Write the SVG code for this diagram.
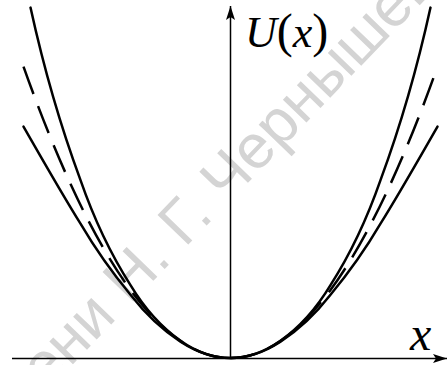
<svg xmlns="http://www.w3.org/2000/svg" width="448" height="365" viewBox="0 0 448 365">
<style>
.wm{font-family:"Liberation Sans",Arial,sans-serif;font-size:62px;fill:#d4d4d4}
.curve{fill:none;stroke:#000;stroke-width:2.5;stroke-linecap:round;stroke-linejoin:round}
.dash{stroke-dasharray:29 13;stroke-linecap:butt}
.axis{fill:none;stroke:#000;stroke-width:1.5}
.lbl{font-family:"Liberation Serif","Times New Roman",serif;font-style:italic;fill:#000}
</style>
<defs>
<marker id="arr" markerUnits="userSpaceOnUse" markerWidth="15" markerHeight="11" refX="14" refY="5.5" orient="auto" viewBox="0 0 15 11">
<path d="M0,1 L14,5.5 L0,10 L3,5.5 Z" fill="#000"/>
</marker>
</defs>
<text class="wm" transform="translate(46,392) rotate(-46)">ени Н. Г. Чернышев</text>
<g id="connectors">
<line id="x-axis" class="axis" x1="12" y1="358.5" x2="447" y2="358.5" marker-end="url(#arr)"/>
<line id="y-axis" class="axis" x1="230.5" y1="358.5" x2="230.5" y2="6" marker-end="url(#arr)"/>
</g>
<g id="curve-outer">
<path class="curve" d="M30.5,7.6 C46.17,79.07 63.83,135.16 80.5,180.19 C96.17,225.22 113.83,259.17 130.5,285.1 C146.17,311.03 163.83,328.95 180.5,340.69 C197.17,352.44 213.83,358 230.5,358 C247.17,358 263.83,352.44 280.5,340.69 C297.17,328.95 314.83,311.03 330.5,285.1 C347.17,259.17 364.83,225.22 380.5,180.19 C397.17,135.16 414.83,79.07 430.5,7.6"/>
</g>
<g id="curve-inner">
<path class="curve" d="M23.5,126.61 C42.5,159.65 61.5,193.24 80.5,223.68 C96.17,250.38 113.83,274.67 130.5,294.8 C146.17,314.93 163.83,330.91 180.5,341.68 C197.17,352.44 213.83,358 230.5,358 C247.17,358 263.83,352.44 280.5,341.68 C297.17,330.91 314.83,314.93 330.5,294.8 C347.17,274.67 364.83,250.38 380.5,223.68 C399.5,193.24 418.5,159.65 437.5,126.61"/>
</g>
<g id="curve-dashed">
<path class="curve dash" d="M23.5,66.63 Q127,358 230.5,358"/>
<path class="curve dash" stroke-dashoffset="30" d="M437.5,66.63 Q334,358 230.5,358"/>
</g>
<g id="label-U">
<text class="lbl" x="245" y="47" font-size="44">U<tspan font-style="normal" font-size="48">(</tspan>x<tspan font-style="normal" font-size="48">)</tspan></text>
</g>
<g id="label-x">
<text class="lbl" x="410" y="350" font-size="48">x</text>
</g>
</svg>
